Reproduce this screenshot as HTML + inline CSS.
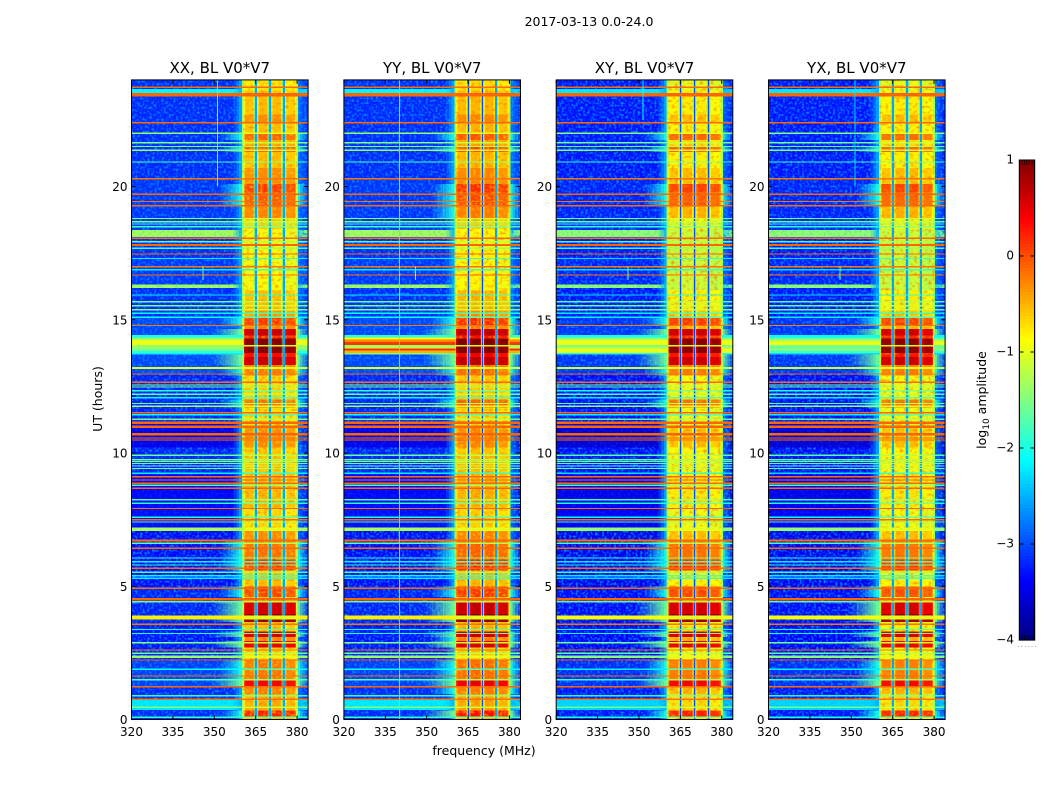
<!DOCTYPE html>
<html>
<head>
<meta charset="utf-8">
<title>Dynamic spectra 2017-03-13</title>
<style>
html,body{margin:0;padding:0;background:#fff;width:1050px;height:800px;overflow:hidden}
svg{display:block}
text{font-family:"DejaVu Sans","Liberation Sans",sans-serif;fill:#000}
.tick{font-size:12px}
.ptitle{font-size:15px}
.lab{font-size:12.5px}
</style>
</head>
<body>
<svg id="fig" xmlns="http://www.w3.org/2000/svg" width="1050" height="800" viewBox="0 0 1050 800">
  <defs>
    <filter id="speckle" x="0" y="0" width="1" height="1" color-interpolation-filters="sRGB">
      <feTurbulence type="fractalNoise" baseFrequency="0.42" numOctaves="1" seed="3"/>
      <feColorMatrix type="matrix" values="0 0 0 0 0  0 0 0 0 0.55  0 0 0 0 1  3.2 0 0 0 -1.45"/>
    </filter>
    <filter id="bandOrange" x="0" y="0" width="1" height="1" color-interpolation-filters="sRGB">
      <feTurbulence type="fractalNoise" baseFrequency="0.28 0.34" numOctaves="1" seed="11"/>
      <feColorMatrix type="matrix" values="0 0 0 0 1  0 0 0 0 0.5  0 0 0 0 0  2.5 0 0 0 -1.25"/>
    </filter>
    <filter id="bandYellow" x="0" y="0" width="1" height="1" color-interpolation-filters="sRGB">
      <feTurbulence type="fractalNoise" baseFrequency="0.3 0.36" numOctaves="1" seed="23"/>
      <feColorMatrix type="matrix" values="0 0 0 0 1  0 0 0 0 0.85  0 0 0 0 0  2.5 0 0 0 -1.35"/>
    </filter>
  </defs>
  <text x="589" y="26" text-anchor="middle" class="lab">2017-03-13 0.0-24.0</text>
  <text x="484" y="755" text-anchor="middle" class="lab">frequency (MHz)</text>
  <text x="0" y="0" transform="translate(102,399) rotate(-90)" text-anchor="middle" class="lab">UT (hours)</text>
  <text x="0" y="0" transform="translate(986,400) rotate(-90)" text-anchor="middle" class="lab">log<tspan font-size="9" dy="3">10</tspan><tspan dy="-3"> amplitude</tspan></text>
  <g id="panels"></g>
  <g id="cbar"></g>
</svg>
<script>
// ---- labels and ticks ----
const panelTitles = ["XX, BL V0*V7", "YY, BL V0*V7", "XY, BL V0*V7", "YX, BL V0*V7"];
const freqTicks = [320, 335, 350, 365, 380];
const utTicks = [0, 5, 10, 15, 20];
const cbarTicks = [1, 0, -1, -2, -3, -4];

// ---- passband: lower UT edge of each stretch and log10 amplitude ----
const bandUT = [0, 0.1, 0.33, 0.95, 1.25, 1.5, 2.25, 2.7, 2.95, 3.1, 3.3, 3.65, 3.95, 4.4, 4.6, 5, 5.6, 6, 6.7, 7.1, 7.95, 9.2, 10.2, 11, 11.7, 12, 12.9, 13.3, 13.6, 13.75, 14.3, 14.4, 14.65, 14.8, 15.1, 15.4, 16.1, 18.4, 18.8, 19.3, 19.8, 20.1, 20.7, 21.3, 21.5, 21.75, 22, 22.4, 22.7, 23.6];
const bandAmp = [-0.6, 0.2, -0.5, -0.3, 0.35, -0.25, -0.7, 0.45, -0.3, 0.55, -0.6, 0.85, 0.55, -0.6, 0, -0.6, 0.1, -0.2, -0.35, -0.75, -0.55, -0.65, -0.35, -0.75, -0.2, -0.7, -0.25, 0.6, 0.3, 0.92, 0.2, 0.6, -0.3, 0.05, -0.4, -0.6, -0.95, -0.7, -0.3, -0.1, 0.05, -0.35, -0.6, -0.1, -0.5, -0.15, -0.6, -0.35, -0.6, -0.8];

// ---- out-of-band background: lower UT edge and log10 amplitude ----
const bgUT = [0, 0.36, 0.73, 1.2, 2.2, 3.5, 5, 7.1, 8, 9.2, 10.2, 11.1, 13, 13.9, 14.4, 15.1, 16.2, 16.32, 17.3, 18.1, 18.37, 20.3, 23.5, 23.65];
const bgAmp = [-3.1, -2.2, -3.1, -3.0, -3.2, -3.15, -3.25, -3.3, -3.35, -3.15, -3.45, -3.15, -2.95, -2.6, -2.95, -3.1, -1.3, -3.05, -3.1, -1.3, -3.05, -3.1, -2.1, -3.1];

// ---- broadband RFI rows: centre UT, log10 amplitude, duration (h) ----
const rfiUT = [23.72, 23.45, 22.39, 22.0, 21.64, 21.5, 21.36, 20.92, 20.29, 19.71, 19.43, 19.28, 18.8, 18.68, 18.6, 18.49, 18.06, 17.93, 17.8, 17.68, 17.47, 17.3, 16.99, 16.87, 16.68, 15.93, 15.68, 15.52, 15.37, 15.24, 15.1, 14.79, 14.03, 13.19, 12.96, 12.65, 12.55, 12.47, 12.34, 12.2, 12.07, 11.86, 11.76, 11.51, 11.43, 11.26, 11.14, 10.99, 10.7, 10.56, 10.49, 9.91, 9.76, 9.69, 9.61, 9.52, 9.42, 9.24, 9.11, 8.99, 8.86, 8.79, 8.68, 8.24, 8.11, 7.92, 7.59, 7.49, 7.41, 7.14, 6.71, 6.61, 6.42, 6.06, 5.92, 5.8, 5.67, 5.52, 5.4, 5.3, 4.93, 4.51, 4.42, 3.83, 3.58, 3.38, 3.23, 2.88, 2.61, 2.48, 2.36, 2.23, 1.88, 1.63, 1.49, 1.23, 0.89, 0.76, 0.46, 0.08];
const rfiAmp = [-0.15, -0.12, -0.15, -1.4, -1.5, -1.6, -1.4, -1.8, -0.2, -0.12, -0.2, -0.15, -1.5, -1.5, -1.9, -1.8, -0.15, -1.6, -0.12, -1.7, -0.15, -2.2, -0.2, -2.2, -0.2, -2.2, -1.6, -1.5, -1.5, -2.1, -2.1, -0.2, -1.4, -1.0, -0.2, -0.15, -1.5, -1.6, -1.9, -1.6, -2.1, -1.6, -1.3, -0.15, -2.1, -1.6, -0.12, -0.12, -0.12, -0.15, -0.15, -1.6, -1.6, -1.6, -1.6, -1.6, -1.6, -2.2, -0.15, -0.15, -0.15, -1.7, -0.12, -1.7, -1.9, -0.15, -2.0, -0.15, -1.7, -1.3, -0.15, -1.6, -0.15, -1.9, -2.1, -1.9, -0.15, -1.7, -2.1, -2.2, -0.15, -0.12, -1.6, -0.8, -0.2, -2.0, -2.0, -1.5, -0.2, -1.6, -1.4, -0.15, -2.1, -0.15, -1.7, -0.15, -1.8, -0.2, -1.5, -1.9];
const rfiSpan = [0.05, 0.13, 0.06, 0.05, 0.05, 0.05, 0.07, 0.05, 0.04, 0.06, 0.04, 0.05, 0.05, 0.05, 0.04, 0.05, 0.06, 0.05, 0.07, 0.05, 0.05, 0.05, 0.05, 0.05, 0.04, 0.05, 0.05, 0.05, 0.05, 0.05, 0.05, 0.04, 0.05, 0.06, 0.04, 0.05, 0.04, 0.04, 0.05, 0.05, 0.05, 0.05, 0.05, 0.05, 0.05, 0.06, 0.09, 0.09, 0.09, 0.05, 0.05, 0.05, 0.04, 0.04, 0.04, 0.04, 0.04, 0.05, 0.05, 0.05, 0.05, 0.04, 0.06, 0.05, 0.05, 0.05, 0.06, 0.06, 0.05, 0.13, 0.07, 0.05, 0.06, 0.05, 0.05, 0.05, 0.05, 0.05, 0.05, 0.05, 0.05, 0.1, 0.05, 0.15, 0.05, 0.05, 0.05, 0.05, 0.05, 0.05, 0.1, 0.05, 0.05, 0.05, 0.05, 0.05, 0.05, 0.05, 0.05, 0.05];

// ---- 14 UT burst: upper UT edge of each row, amplitude in each polarisation ----
const burstTopUT = [14.42, 14.33, 14.25, 14.16, 14.06, 14.0, 13.93, 13.84, 13.76];
const burstBottomUT = 13.7;
const burstXX = [-2.0, -1.5, -1.0, -0.95, -0.95, -1.4, -1.5, -1.9, -2.2];
const burstYY = [-1.9, -0.9, -0.3, 0.1, 0.25, -1.2, 0.15, -0.5, -1.5];
const burstXY = [-2.0, -1.5, -1.0, -0.95, -0.95, -1.4, -0.95, -1.0, -2.0];
const burstYX = [-2.1, -1.7, -1.2, -0.95, -1.0, -1.7, -1.4, -1.8, -2.3];
const burstByPanel = [burstXX, burstYY, burstXY, burstYX];

// ---- polarisation gains ----
const panelBgGain = [0, 0, -0.1, -0.1];
const panelFloorAmp = [-0.95, -0.95, -1.1, -1.1];
const panelWeakBandGain = [0, 0.05, -0.25, -0.25];
const panelStrongBandGain = [0, 0.08, 0, -0.03];
const panelYellowMottle = [1, 1, 0.35, 0.35];
const blockGain = [0, 0.05, 0.05, -0.05];

// ---- passband geometry in MHz ----
const blockLow = [360.7, 365.6, 370.7, 375.7];
const blockHigh = [364.6, 369.7, 374.7, 379.7];
const gapMHz = [365.1, 370.2, 375.2];
const bandLowMHz = 360.4;
const bandHighMHz = 380;

// ---- narrow vertical interference features ----
const spikePanel = [0, 0, 1, 1, 2, 2, 3, 3];
const spikeMHz = [351, 345.8, 340, 345.8, 351.2, 345.8, 351.2, 345.8];
const spikeFromUT = [20, 16.5, 0, 16.5, 22.5, 16.5, 20, 16.5];
const spikeToUT = [24, 17, 24, 17, 24, 17, 24, 17];
const spikeAmp = [-1.7, -1.5, -1.9, -1.5, -2.1, -1.5, -2.3, -1.5];

// ---- layout and axis functions ----
const panelLeft = [131.5, 343.9, 556.2, 768.5];
const panelWidth = 176.6;
const NS = "http://www.w3.org/2000/svg";
const xOf = (p, mhz) => panelLeft[p] + (mhz - 320) / 64 * panelWidth;
const yOf = h => 719.5 - h * (639.6 / 24);
const cbarY = v => 640 - (v + 4) * 96;

function jet(level) {
  const t = Math.min(1, Math.max(0, (level + 4) / 5));
  const c = v => Math.round(255 * Math.min(1, Math.max(0, 1.5 - Math.abs(4 * t - v))));
  return "rgb(" + c(3) + "," + c(2) + "," + c(1) + ")";
}
function add(parent, tag, attrs, txt) {
  const el = document.createElementNS(NS, tag);
  for (const k in attrs) el.setAttribute(k, attrs[k]);
  if (txt !== undefined) el.textContent = txt;
  parent.appendChild(el);
  return el;
}
function bandAt(i, p) {
  const a = bandAmp[i];
  return a > -0.3 ? a + panelStrongBandGain[p] : a + panelWeakBandGain[p];
}
function drawBlocks(plot, p, i) {
  const h = bandUT[i];
  const end = i + 1 < bandUT.length ? bandUT[i + 1] : 24;
  const a = bandAt(i, p);
  blockLow.forEach((lo, b) => {
    const level = a + blockGain[b];
    const outer = add(plot, "rect", { x: xOf(p, lo), y: yOf(end), width: xOf(p, blockHigh[b]) - xOf(p, lo), height: yOf(h) - yOf(end), fill: jet(Math.max(panelFloorAmp[p], level - 0.3)) });
    
    
    const inner = add(plot, "rect", { x: xOf(p, lo) + 1.2, y: yOf(end), width: xOf(p, blockHigh[b]) - xOf(p, lo) - 2.4, height: yOf(h) - yOf(end), fill: jet(level) });
    
    
  });
}

const root = document.getElementById("panels");

panelTitles.forEach((title, p) => {
  const panel = add(root, "g", {});
  
  
  const x0 = xOf(p, 320), x1 = xOf(p, 384);

  const clip = add(panel, "clipPath", { id: "clip" + p });
  add(clip, "rect", { x: x0, y: yOf(24), width: panelWidth, height: yOf(0) - yOf(24) });
  const plot = add(panel, "g", { "clip-path": "url(#clip" + p + ")", "shape-rendering": "crispEdges" });
  
  

  // background stretches
  bgUT.forEach((h, i) => {
    const end = i + 1 < bgUT.length ? bgUT[i + 1] : 24;
    const cell = add(plot, "rect", { x: x0, y: yOf(end), width: panelWidth, height: yOf(h) - yOf(end), fill: jet(bgAmp[i] + panelBgGain[p] - 0.1) });
    
    
  });

  // fine speckle texture over the out-of-band region
  const noise = add(plot, "rect", { x: x0, y: yOf(24), width: xOf(p, bandLowMHz) - x0, height: yOf(0) - yOf(24), filter: "url(#speckle)" });
  
  
  const noiseRight = add(plot, "rect", { x: xOf(p, bandHighMHz), y: yOf(24), width: x1 - xOf(p, bandHighMHz), height: yOf(0) - yOf(24), filter: "url(#speckle)" });
  
  

  // dark or bright stretches keep their own level through the speckle
  bgUT.forEach((h, i) => {
    if (bgAmp[i] > -3.3 && bgAmp[i] < -2.5) return;
    const end = i + 1 < bgUT.length ? bgUT[i + 1] : 24;
    const veil = add(plot, "rect", { x: x0, y: yOf(end), width: xOf(p, bandLowMHz) - x0, height: yOf(h) - yOf(end), fill: jet(bgAmp[i] + panelBgGain[p]), "fill-opacity": 0.75 });
    
    
  });

  // passband wings fade out of the background, grown from the band amplitude
  bandUT.forEach((h, i) => {
    const end = i + 1 < bandUT.length ? bandUT[i + 1] : 24;
    const a = bandAt(i, p);
    const start = a > 0.2 ? 349 : a > -0.3 ? 352 : 357;
    const target = a > 0.2 ? -1.6 : a > -0.3 ? -2.0 : -2.5;
    for (let m = start; m < bandLowMHz; m += 1) {
      const u = Math.pow((m - start + 1) / (bandLowMHz - start), 1.2);
      const wing = add(plot, "rect", { x: xOf(p, m), y: yOf(end), width: 2.9, height: yOf(h) - yOf(end), fill: jet(target), "fill-opacity": u });
      
      
    }
    for (let m = bandHighMHz; m < 384; m += 1) {
      const u = Math.pow((384 - m) / 4, 1.2) * (a > -0.3 ? 0.9 : 0.5);
      const wing = add(plot, "rect", { x: xOf(p, m), y: yOf(end), width: 2.9, height: yOf(h) - yOf(end), fill: jet(target), "fill-opacity": u });
      
      
    }
  });

  // band floor with soft lime edges
  const floor = add(plot, "rect", { x: xOf(p, bandLowMHz), y: yOf(24), width: xOf(p, bandHighMHz) - xOf(p, bandLowMHz), height: yOf(0) - yOf(24), fill: jet(panelFloorAmp[p]) });
  
  
  const edgeL = add(plot, "rect", { x: xOf(p, bandLowMHz) - 1, y: yOf(24), width: 1.5, height: yOf(0) - yOf(24), fill: jet(-1.35) });
  
  
  const edgeR = add(plot, "rect", { x: xOf(p, bandHighMHz) - 0.5, y: yOf(24), width: 1.5, height: yOf(0) - yOf(24), fill: jet(-1.35) });
  
  

  // weak band blocks, then mottling, then strong blocks on top
  bandUT.forEach((h, i) => { if (bandAt(i, p) < 0.3) drawBlocks(plot, p, i); });
  const mottleA = add(plot, "rect", { x: xOf(p, bandLowMHz), y: yOf(24), width: xOf(p, bandHighMHz) - xOf(p, bandLowMHz), height: yOf(0) - yOf(24), filter: "url(#bandOrange)" });
  
  
  const mottleB = add(plot, "rect", { x: xOf(p, bandLowMHz), y: yOf(24), width: xOf(p, bandHighMHz) - xOf(p, bandLowMHz), height: yOf(0) - yOf(24), filter: "url(#bandYellow)", opacity: panelYellowMottle[p] });
  
  
  bandUT.forEach((h, i) => { if (bandAt(i, p) >= 0.3) drawBlocks(plot, p, i); });

  // gaps between sub-bands
  gapMHz.forEach(m => {
    const halo = add(plot, "rect", { x: xOf(p, m) - 1.3, y: yOf(24), width: 2.6, height: yOf(0) - yOf(24), fill: jet(-2.1) });
    
    
    const core = add(plot, "rect", { x: xOf(p, m) - 0.5, y: yOf(24), width: 1, height: yOf(0) - yOf(24), fill: jet(-3) });
    
    
  });

  // 14 UT burst rows
  burstTopUT.forEach((top, j) => {
    const low = j + 1 < burstTopUT.length ? burstTopUT[j + 1] : burstBottomUT;
    const amp = burstByPanel[p][j];
    const left = add(plot, "rect", { x: x0, y: yOf(top), width: xOf(p, bandLowMHz) - x0, height: yOf(low) - yOf(top), fill: jet(amp) });
    
    
    const right = add(plot, "rect", { x: xOf(p, bandHighMHz), y: yOf(top), width: x1 - xOf(p, bandHighMHz), height: yOf(low) - yOf(top), fill: jet(amp) });
    
    
  });

  // RFI rows
  rfiUT.forEach((h, i) => {
    const top = yOf(h + rfiSpan[i] / 2);
    const hgt = Math.max(1, yOf(h - rfiSpan[i] / 2) - top);
    const amp = rfiAmp[i];
    const out = add(plot, "rect", { x: x0, y: top, width: panelWidth, height: hgt, fill: jet(amp + (amp < -0.5 ? panelBgGain[p] : 0)) });
    
    
    const inBand = amp > -0.5 ? amp : Math.min(-1.0, amp + 0.4);
    const mid = add(plot, "rect", { x: xOf(p, bandLowMHz), y: top, width: xOf(p, bandHighMHz) - xOf(p, bandLowMHz), height: hgt, fill: jet(inBand) });
    
    
  });

  // vertical features
  spikePanel.forEach((sp, i) => {
    if (sp !== p) return;
    const v = add(plot, "rect", { x: xOf(p, spikeMHz[i]), y: yOf(spikeToUT[i]), width: 1, height: yOf(spikeFromUT[i]) - yOf(spikeToUT[i]), fill: jet(spikeAmp[i]) });
    
    
  });

  // frame
  const frame = add(panel, "rect", { x: x0, y: yOf(24), width: panelWidth, height: yOf(0) - yOf(24), fill: "none", stroke: "#000", "stroke-width": 1 });
  
  

  // x ticks
  freqTicks.forEach(f => {
    const x = xOf(p, f);
    const tb = add(panel, "line", { x1: x, x2: x, y1: yOf(0), y2: yOf(0) - 4, stroke: "#000", "stroke-width": 1 });
    
    
    const tt = add(panel, "line", { x1: x, x2: x, y1: yOf(24), y2: yOf(24) + 4, stroke: "#000", "stroke-width": 1 });
    
    
    const lab = add(panel, "text", { x: x, y: 736, "text-anchor": "middle", class: "tick" }, String(f));
    
    
  });

  // y ticks
  utTicks.forEach(u => {
    const y = yOf(u);
    const tl = add(panel, "line", { x1: x0, x2: x0 + 4, y1: y, y2: y, stroke: "#000", "stroke-width": 1 });
    
    
    const tr = add(panel, "line", { x1: x1, x2: x1 - 4, y1: y, y2: y, stroke: "#000", "stroke-width": 1 });
    
    
    const lab = add(panel, "text", { x: x0 - 4, y: y + 4.5, "text-anchor": "end", class: "tick" }, String(u));
    
    
  });

  const ttl = add(panel, "text", { x: x0 + panelWidth / 2, y: 73, "text-anchor": "middle", class: "ptitle" }, title);
  
  
});

// ---- colorbar ----
const cb = document.getElementById("cbar");
const cbLeft = 1019.5, cbRight = 1034.5;
const outline = add(cb, "rect", { x: cbLeft - 1.5, y: cbarY(1) - 0.5, width: cbRight - cbLeft + 3, height: cbarY(-4) - cbarY(1) + 1.5, fill: "#c8c8c8" });


for (let v = -4; v < 1; v += 0.03125) {
  const s = add(cb, "rect", { x: cbLeft, y: cbarY(v + 0.03125), width: cbRight - cbLeft, height: 3.2, fill: jet(v + 0.015), "shape-rendering": "crispEdges" });
  
  
}
const cbBorder = add(cb, "rect", { x: cbLeft, y: cbarY(1), width: cbRight - cbLeft, height: cbarY(-4) - cbarY(1), fill: "none", stroke: "#000", "stroke-width": 1 });


cbarTicks.forEach(v => {
  const y = cbarY(v);
  const a = add(cb, "line", { x1: cbLeft, x2: cbLeft + 4, y1: y, y2: y, stroke: "#000", "stroke-width": 1 });
  
  
  const b = add(cb, "line", { x1: cbRight, x2: cbRight - 4, y1: y, y2: y, stroke: "#000", "stroke-width": 1 });
  
  
  const lab = add(cb, "text", { x: 1014, y: y + 3.5, "text-anchor": "end", class: "tick" }, v < 0 ? "\u2212" + (-v) : String(v));
  
  
});
for (let k = 1; k <= 5; k++) {
  const x = cbLeft + k * (cbRight - cbLeft) / 6;
  const top = add(cb, "line", { x1: x, x2: x, y1: cbarY(1), y2: cbarY(1) + 5, stroke: "#000", "stroke-width": 0.7 });
  
  
  const bot = add(cb, "line", { x1: x, x2: x, y1: cbarY(-4), y2: cbarY(-4) - 5, stroke: "#000", "stroke-width": 0.7 });
  
  
}
for (let k = 0; k < 6; k++) {
  const d = add(cb, "rect", { x: 1018 + k * 3.4, y: 646, width: 1, height: 1, fill: "#aaa" });
  
  
}
</script>
</body>
</html>
